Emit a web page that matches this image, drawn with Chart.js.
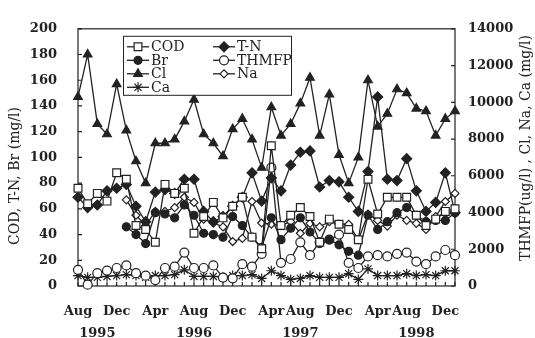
<!DOCTYPE html>
<html>
<head>
<meta charset="utf-8">
<script src="https://cdn.jsdelivr.net/npm/chart.js@4.4.0/dist/chart.umd.min.js"></script>
<style>
  html, body { margin: 0; padding: 0; background: #fff; }
  #wrap { width: 535px; height: 338px; }
</style>
</head>
<body>
<div id="wrap"><canvas id="myChart" width="535" height="338"></canvas></div>
<script>
// monthly samples, Aug 1995 onwards
const months = [
  '1995-08','1995-09','1995-10','1995-11','1995-12','1996-01','1996-02','1996-03','1996-04','1996-05',
  '1996-06','1996-07','1996-08','1996-09','1996-10','1996-11','1996-12','1997-01','1997-02','1997-03',
  '1997-04','1997-05','1997-06','1997-07','1997-08','1997-09','1997-10','1997-11','1997-12','1998-01',
  '1998-02','1998-03','1998-04','1998-05','1998-06','1998-07','1998-08','1998-09','1998-10','1998-11'
];
// text under the axis, keyed by category index
const xTickText = {
  0: ['Aug'], 2: ['', '1995'], 4: ['Dec'], 8: ['Apr'], 12: ['Aug', '1996'], 16: ['Dec'],
  20: ['Apr'], 23: ['Aug', '1997'], 27: ['Dec'], 31: ['Apr'], 34: ['Aug'], 35: ['', '1998'], 38: ['Dec']
};

// left axis (mg/l)
const codValues = [76,64,72,66,88, 83,47,44,34,79, 72,76,41,54,65, 53,62,69,38,29,
                   109,47,55,61,54, 34,52,48,44,36, 83,56,69,69,69, 55,47,52,58,60];
const tnValues  = [69,61,63,74,76, 79,62,50,73,75, 72,83,83,58,50, 54,62,69,88,66,
                   84,74,94,104,105, 77,82,81,69,58, 89,147,83,82,99, 74,58,65,88,57];
const brValues  = [null,null,null,null,null, 46,40,33,57,56, 53,63,55,41,40, 38,54,47,38,30,
                   53,36,45,53,42, 33,36,32,27,24, 55,44,50,57,61, 55,50,51,51,57];
// right axis (THMFP ug/l, others mg/l)
const thmfpValues = [880,70,700,840,980, 1120,700,560,320,980, 1050,1820,980,980,1120, 460,420,1190,1050,1750,
                     6440,1260,1470,2380,1680, 2380,2520,2800,1260,980, 1610,1680,1610,1750,1820, 1330,1190,1610,1960,1680];
const clValues = [10290,12600,8820,8260,10990, 8470,6790,5600,7770,7770, 7980,8960,10150,8260,7770, 7070,8540,9100,7980,6440,
                  9730,8190,8820,9940,11340, 8190,10430,7140,5600,7000, 11200,8680,9380,10710,10500, 9660,9520,8190,9100,9520];
const naValues = [null,null,null,null,null, 4690,3850,3290,4060,4060, 4270,4830,4550,3640,3430, 3220,2420,2590,4600,3430,
                  3360,3290,3500,2870,3410, 3220,3500,3360,3360,2520, 3920,3570,3260,3850,3570, 3410,3080,3780,4600,5040];
const caValues = [570,470,470,520,570, 620,570,470,570,570, 620,880,520,520,520, 470,570,570,620,410,
                  830,570,360,410,570, 470,470,470,670,360, 930,570,570,570,670, 570,620,570,830,830];

const ink = '#222';
const serif = 'DejaVu Serif';

function series(label, data, axis, style, radius, filled) {
  return {
    label: label, data: data, yAxisID: axis,
    borderColor: ink, borderWidth: 1.3,
    pointStyle: style, pointRadius: radius, pointHoverRadius: radius,
    pointBackgroundColor: filled ? ink : '#fff', pointBorderColor: ink, pointBorderWidth: 1.2,
    tension: 0, clip: false
  };
}

// frame + inward tick marks
const frame = {
  id: 'frame',
  beforeDatasetsDraw(chart) {
    const { ctx, chartArea: a, scales } = chart;
    ctx.save();
    ctx.strokeStyle = ink;
    ctx.lineWidth = 1.2;
    ctx.strokeRect(a.left, a.top, a.right - a.left, a.bottom - a.top);
    ctx.beginPath();
    scales.x.ticks.forEach((t, i) => {
      const px = scales.x.getPixelForTick(i);
      ctx.moveTo(px, a.bottom); ctx.lineTo(px, a.bottom - 4);
    });
    scales.y.ticks.forEach((t, i) => {
      const py = scales.y.getPixelForTick(i);
      ctx.moveTo(a.left, py); ctx.lineTo(a.left + 4, py);
    });
    scales.y2.ticks.forEach((t, i) => {
      const py = scales.y2.getPixelForTick(i);
      ctx.moveTo(a.right, py); ctx.lineTo(a.right - 4, py);
    });
    ctx.stroke();
    ctx.restore();
  },
  afterDraw(chart) {
    // axis titles, both read bottom to top
    const { ctx } = chart;
    ctx.save();
    ctx.fillStyle = ink;
    ctx.font = '14px "' + serif + '"';
    ctx.textAlign = 'center';
    ctx.textBaseline = 'middle';
    ctx.translate(15, 176);
    ctx.rotate(-Math.PI / 2);
    ctx.fillText('COD, T-N, Br (mg/l)', 0, 0);
    ctx.restore();
    ctx.save();
    ctx.fillStyle = ink;
    ctx.font = '14px "' + serif + '"';
    ctx.textAlign = 'center';
    ctx.textBaseline = 'middle';
    ctx.translate(526, 148);
    ctx.rotate(-Math.PI / 2);
    ctx.fillText('THMFP(ug/l) , Cl, Na, Ca (mg/l)', 0, 0);
    ctx.restore();
  }
};

// two-column legend box inside the plot
const legendSlots = [[0, 0], [1, 0], [0, 1], [1, 1], [0, 2], [1, 2], [0, 3]];
const boxLegend = {
  id: 'boxLegend',
  afterDatasetsDraw(chart) {
    const { ctx, chartArea: a } = chart;
    const x0 = a.left + 45, y0 = a.top + 7, w = 168, h = 59;
    ctx.save();
    ctx.fillStyle = '#fff';
    ctx.fillRect(x0, y0, w, h);
    ctx.strokeStyle = ink;
    ctx.lineWidth = 1;
    ctx.strokeRect(x0 + 0.5, y0 + 0.5, w, h);
    ctx.font = '14px "' + serif + '"';
    ctx.textBaseline = 'middle';
    chart.data.datasets.forEach((ds, i) => {
      const col = legendSlots[i][0], row = legendSlots[i][1];
      const lx = x0 + 4 + col * 86, ly = y0 + 11 + row * 13.5;
      ctx.strokeStyle = ink;
      ctx.lineWidth = 1.3;
      ctx.beginPath();
      ctx.moveTo(lx, ly); ctx.lineTo(lx + 22, ly);
      ctx.stroke();
      ctx.fillStyle = ds.pointBackgroundColor;
      ctx.lineWidth = 1.2;
      Chart.helpers.drawPoint(ctx, {
        pointStyle: ds.pointStyle, radius: ds.pointRadius, rotation: 0, borderWidth: 1.2
      }, lx + 11, ly);
      ctx.fillStyle = ink;
      ctx.fillText(ds.label, lx + 24, ly + 1);
    });
    ctx.restore();
  }
};

const tickFont = { family: serif, size: 13, weight: 'bold' };

const ctx = document.getElementById('myChart');
const myChart = new Chart(ctx, {
  type: 'line',
  data: {
    labels: months,
    datasets: [
      series('COD', codValues, 'y', 'rect', 5.5, false),
      series('T-N', tnValues, 'y', 'rectRot', 5, true),
      series('Br', brValues, 'y', 'circle', 4, true),
      series('THMFP', thmfpValues, 'y2', 'circle', 4.5, false),
      series('Cl', clValues, 'y2', 'triangle', 5, true),
      series('Na', naValues, 'y2', 'rectRot', 4, false),
      series('Ca', caValues, 'y2', 'star', 5, true)
    ]
  },
  options: {
    responsive: false,
    animation: false,
    layout: { padding: { top: 15, left: 0, right: 0, bottom: 0 } },
    plugins: { legend: { display: false }, tooltip: { enabled: false } },
    scales: {
      x: {
        grid: { display: false, drawTicks: false },
        border: { display: false },
        ticks: {
          autoSkip: false, maxRotation: 0, padding: 15, color: ink,
          font: { family: serif, size: 13, weight: 'bold', lineHeight: 1.65 },
          callback: (v, i) => xTickText[i] || ''
        },
        afterFit: s => { s.height = 52; }
      },
      y: {
        position: 'left', min: 0, max: 200,
        grid: { display: false, drawTicks: false },
        border: { display: false },
        ticks: { stepSize: 20, padding: 21, color: ink, font: tickFont, callback: v => String(v) },
        afterFit: s => { s.width = 78; }
      },
      y2: {
        position: 'right', min: 0, max: 14000,
        grid: { display: false, drawTicks: false },
        border: { display: false },
        ticks: { stepSize: 2000, padding: 13, color: ink, font: tickFont, callback: v => String(v) },
        afterFit: s => { s.width = 80; }
      }
    }
  },
  plugins: [frame, boxLegend]
});
</script>
</body>
</html>
